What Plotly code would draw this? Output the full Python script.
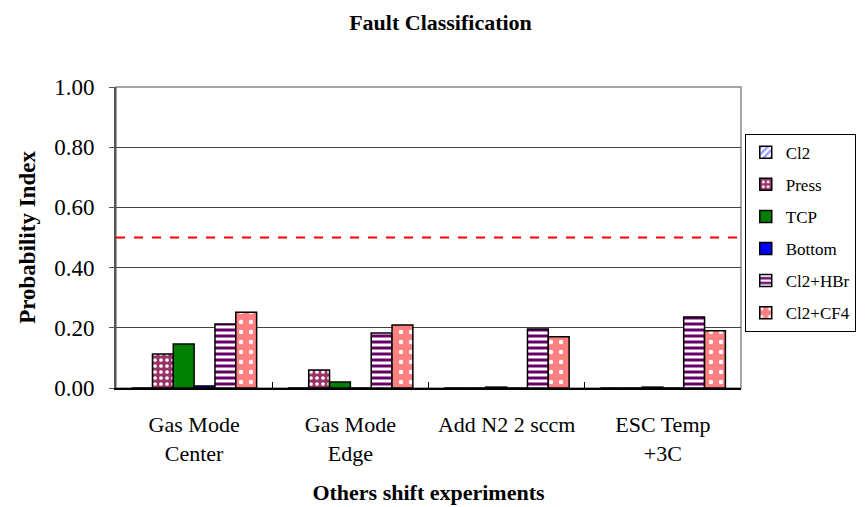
import plotly.graph_objects as go

categories = ["Gas Mode<br>Center", "Gas Mode<br>Edge", "Add N2 2 sccm", "ESC Temp<br>+3C"]
series_names = ["Cl2", "Press", "TCP", "Bottom", "Cl2+HBr", "Cl2+CF4"]
cl2 = [0.0, 0.0, 0.0, 0.0]
press = [0.113, 0.060, 0.0, 0.0]
tcp = [0.146, 0.020, 0.003, 0.003]
bottom = [0.007, 0.0, 0.0, 0.0]
cl2_hbr = [0.213, 0.183, 0.196, 0.236]
cl2_cf4 = [0.252, 0.209, 0.170, 0.190]
threshold = 0.5
y_ticks = [0.0, 0.2, 0.4, 0.6, 0.8, 1.0]

values = [cl2, press, tcp, bottom, cl2_hbr, cl2_cf4]
styles = [
    dict(color="#C8CCF4", pattern=dict(shape="/", fgcolor="#FFFFFF", bgcolor="#9999FF", size=6, solidity=0.5)),
    dict(color="#993366", pattern=dict(shape=".", fgcolor="#FFFFFF", bgcolor="#993366", size=6, solidity=0.3)),
    dict(color="#008000"),
    dict(color="#0000FF"),
    dict(color="#660066", pattern=dict(shape="-", fgcolor="#660066", bgcolor="#FFFFFF", size=6, solidity=0.5)),
    dict(color="#FF8080", pattern=dict(shape=".", fgcolor="#FFFFFF", bgcolor="#FF8080", size=10, solidity=0.15)),
]

fig = go.Figure()
for i, (name, vals, st) in enumerate(zip(series_names, values, styles)):
    marker = dict(color=st["color"], line=dict(color="#000000", width=1.5))
    if "pattern" in st:
        marker["pattern"] = dict(fillmode="replace", **st["pattern"])
    fig.add_trace(go.Bar(name=name, x=categories, y=vals, marker=marker, legendgroup=f"g{i}"))

fig.add_shape(type="line", xref="paper", yref="y", x0=0, x1=1, y0=threshold, y1=threshold,
              line=dict(color="#FF0000", width=2, dash="dash"))

font_family = "Liberation Serif"
fig.update_layout(
    width=865, height=507,
    margin=dict(l=108, r=132, t=79, b=127),
    paper_bgcolor="white", plot_bgcolor="white",
    barmode="group", bargap=0.2, bargroupgap=0,
    font=dict(family=font_family, size=22, color="black"),
    title=dict(text="<b>Fault Classification</b>", x=0.5, xanchor="center", y=0.972, yanchor="middle",
               font=dict(size=22, family=font_family)),
    showlegend=True,
    legend=dict(x=1.006, y=0.845, xanchor="left", yanchor="top",
                bordercolor="black", borderwidth=1, tracegroupgap=7,
                font=dict(size=17, family=font_family),
                itemwidth=30),
    xaxis=dict(showline=True, linecolor="black", linewidth=1.5, ticks="inside", ticklen=6,
               tickson="boundaries", tickcolor="black", showgrid=False,
               ticklabelstandoff=16,
               title=dict(text="<b>Others shift experiments</b>", font=dict(size=22, family=font_family), standoff=20),
               tickfont=dict(size=22, family=font_family)),
    yaxis=dict(range=[0, 1.0], tickvals=y_ticks, ticktext=[f"{v:.2f}" for v in y_ticks],
               showline=True, linecolor="#555555", linewidth=2, ticks="outside", ticklen=5,
               tickcolor="#555555", showgrid=True, gridcolor="#444444", gridwidth=1,
               ticklabelstandoff=10,
               title=dict(text="<b>Probability Index</b>", font=dict(size=23, family=font_family), standoff=12),
               tickfont=dict(size=23, family=font_family), zeroline=False),
)
fig.add_shape(type="rect", xref="paper", yref="paper", x0=0, x1=1, y0=0, y1=1,
              line=dict(color="#888888", width=1.5), layer="below")

fig.write_html("out.html")
